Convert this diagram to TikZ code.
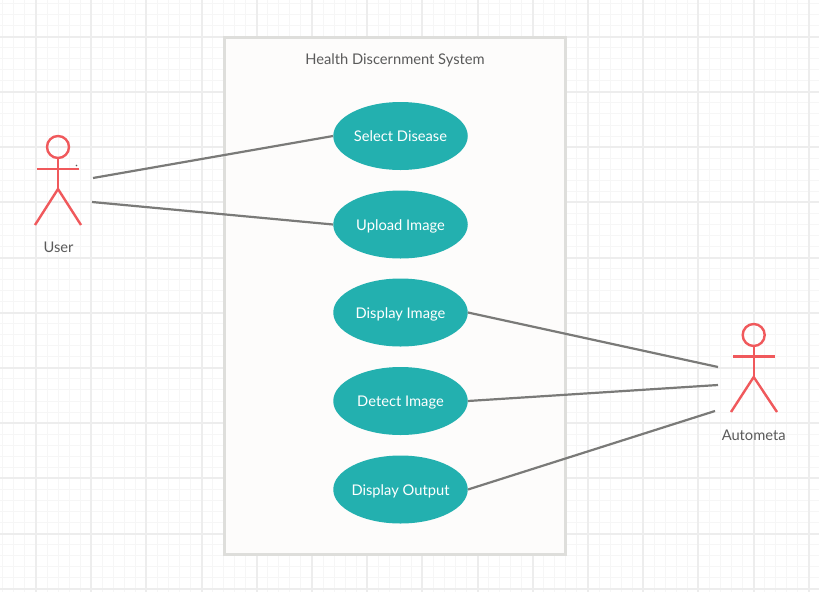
\documentclass[tikz,border=0pt]{standalone}
\usepackage{fontspec}
\setmainfont{Lato}
\usetikzlibrary{shapes.geometric}
\definecolor{teal1}{HTML}{23B0AF}
\definecolor{red1}{HTML}{F0595C}
\definecolor{line1}{HTML}{7A7A78}
\definecolor{frame1}{HTML}{DEDEDB}
\definecolor{fill1}{HTML}{FDFCFB}
\definecolor{txt1}{HTML}{5A5A5A}
\definecolor{gridmaj}{HTML}{EDEDED}
\definecolor{gridmin}{HTML}{F6F6F6}
\tikzset{
  usecase/.style={ellipse,fill=teal1,minimum width=134.5pt,minimum height=68pt,inner xsep=-8pt,inner ysep=0pt,text height=12pt,text depth=0.8pt,text=white,font=\fontsize{14.7}{16}\selectfont},
  conn/.style={draw=line1,line width=2.2pt},
  stick/.style={draw=red1,line width=2.4pt},
  lbl/.style={text=txt1,font=\fontsize{14.7}{16}\selectfont,inner sep=0pt},
  sysbox/.style={draw=frame1,fill=fill1,line width=2.6pt,minimum width=341pt,minimum height=517pt,inner sep=0pt},
  minorg/.style={draw=gridmin,line width=1pt},
  majorg/.style={draw=gridmaj,line width=2pt}
}
\begin{document}
\begin{tikzpicture}[x=1pt,y=-1pt]
\useasboundingbox (0,0) rectangle (819,592);
\fill[white] (0,0) rectangle (819,592);
% grid
\foreach \i in {-3,...,75} {
  \pgfmathsetmacro{\gx}{36+11.04*\i}
  \pgfmathsetmacro{\gy}{36.7+11.04*\i}
  \draw[minorg] (\gx,0) -- (\gx,592);
  \draw[minorg] (0,\gy) -- (819,\gy);
}
\foreach \i in {0,...,14} {
  \pgfmathsetmacro{\gx}{36+55.2*\i}
  \draw[majorg] (\gx,0) -- (\gx,592);
}
\foreach \i in {0,...,10} {
  \pgfmathsetmacro{\gy}{36.7+55.2*\i}
  \draw[majorg] (0,\gy) -- (819,\gy);
}
% system
\node[sysbox] (sys) at (394.8,296) {};
\node[lbl] (title) at (395,60) {Health Discernment System};
% use cases
\node[usecase] (sel) at (400.5,136) {Select Disease};
\node[usecase] (upl) at (400.5,224.5) {Upload Image};
\node[usecase] (dis) at (400.5,312.5) {Display Image};
\node[usecase] (det) at (400.5,401) {Detect Image};
\node[usecase] (out) at (400.5,489.5) {Display Output};
% user actor
\node[circle,stick,minimum size=22pt,inner sep=0pt] (uhead) at (58,147) {};
\coordinate (uhip) at (58,189);
\coordinate (uarml) at (37,169);
\coordinate (uarmr) at (78.5,169);
\coordinate (ulegl) at (35,225);
\coordinate (ulegr) at (81,225);
\draw[stick] (uhead.south) -- (uhip);
\draw[stick] (uarml) -- (uarmr);
\draw[stick] (ulegl) -- (uhip) -- (ulegr);
\fill[txt1] (76.5,165.5) circle (0.8pt);
\node[lbl] (ulabel) at (58.5,247) {User};
% automata actor
\node[circle,stick,minimum size=22pt,inner sep=0pt] (ahead) at (753.7,335) {};
\coordinate (ahip) at (753.7,377);
\coordinate (aarml) at (733,356.5);
\coordinate (aarmr) at (775,356.5);
\coordinate (alegl) at (731,412);
\coordinate (alegr) at (777,412);
\draw[stick] (ahead.south) -- (ahip);
\draw[stick] (aarml) -- (aarmr);
\draw[stick] (alegl) -- (ahip) -- (alegr);
\node[lbl] (alabel) at (753.7,435) {Autometa};
% connector ends
\coordinate (u1) at (93,178);
\coordinate (u2) at (92,202);
\coordinate (a1) at (718,367);
\coordinate (a2) at (718,385);
\coordinate (a3) at (715,411);
\draw[conn] (u1) -- (sel.west);
\draw[conn] (u2) -- (upl.west);
\draw[conn] (dis.east) -- (a1);
\draw[conn] (det.east) -- (a2);
\draw[conn] (out.east) -- (a3);
\end{tikzpicture}
\end{document}
